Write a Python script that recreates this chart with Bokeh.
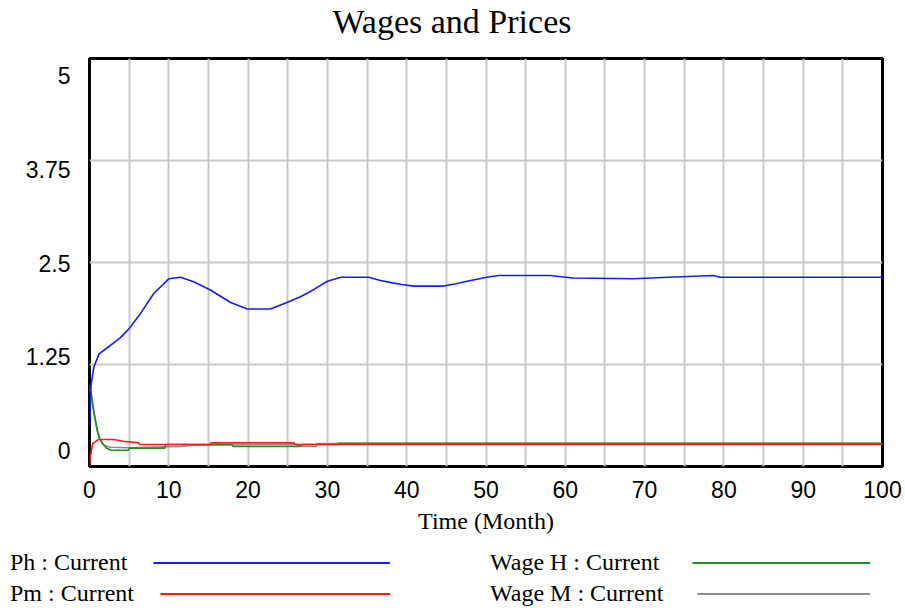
from bokeh.plotting import figure
from bokeh.layouts import column
from bokeh.models import Range1d, LinearAxis, FixedTicker, Legend, LegendItem, ColumnDataSource
from bokeh.embed import file_html
from bokeh.resources import INLINE

# ---- data ----
ph_t = [0, 0.2, 0.55, 1.2, 2.6, 3.9, 5.0, 6.4, 8.1, 10.0, 11.5, 13.2, 15.3, 17.8, 19.9,
        22.8, 24.9, 26.6, 28.3, 30.0, 31.7, 35.2, 36.7, 38.2, 39.4, 40.9, 44.5, 46.2,
        47.6, 50.1, 51.6, 58.1, 61.0, 68.6, 73.0, 78.7, 79.5, 100]
ph = [0.50, 1.00, 1.22, 1.38, 1.48, 1.58, 1.69, 1.87, 2.12, 2.30, 2.32, 2.26, 2.16, 2.01, 1.93,
      1.93, 2.01, 2.08, 2.17, 2.27, 2.32, 2.32, 2.28, 2.25, 2.23, 2.21, 2.21, 2.24,
      2.27, 2.32, 2.34, 2.34, 2.31, 2.30, 2.32, 2.34, 2.32, 2.32]

pm_t = [0, 0.1, 0.4, 1.1, 3.0, 4.3, 6.2, 6.3, 15.2, 15.3, 25.8, 25.9, 100]
pm = [0.0, 0.12, 0.28, 0.33, 0.33, 0.31, 0.29, 0.27, 0.27, 0.29, 0.29, 0.27, 0.27]

wh_t = [0, 0.3, 0.6, 1.0, 1.3, 1.7, 2.1, 2.7, 4.9, 5.0, 9.5, 9.6, 15.3, 18.0, 18.1,
        26.2, 27.0, 31.3, 31.4, 100]
wh = [1.00, 0.85, 0.65, 0.44, 0.34, 0.28, 0.23, 0.20, 0.20, 0.225, 0.225, 0.27, 0.27, 0.27, 0.245,
      0.245, 0.27, 0.27, 0.285, 0.285]

wm_t = [0, 0.3, 0.6, 1.0, 1.3, 1.7, 2.1, 2.7, 5.0, 7.0, 11.5, 13.0, 26.1, 26.2, 28.6, 28.7, 100]
wm = [0.95, 0.80, 0.62, 0.42, 0.33, 0.27, 0.25, 0.235, 0.23, 0.235, 0.245, 0.26, 0.27, 0.245,
      0.245, 0.28, 0.28]

x_ticks = [0, 10, 20, 30, 40, 50, 60, 70, 80, 90, 100]
x_grid = list(range(0, 101, 5))
y_ticks = [0, 1.25, 2.5, 3.75, 5]
y_tick_labels = ["0", "1.25", "2.5", "3.75", "5"]
y_grid = [1.25, 2.5, 3.75]

title_text = "Wages and Prices"
labels = ["Ph : Current", "Pm : Current", "Wage H : Current", "Wage M : Current"]
colors = ["#1a1aff", "#ff1a1a", "#1f901f", "#8c8c8c"]

srcs = [ColumnDataSource(dict(t=ph_t, v=ph)), ColumnDataSource(dict(t=pm_t, v=pm)),
        ColumnDataSource(dict(t=wh_t, v=wh)), ColumnDataSource(dict(t=wm_t, v=wm))]


def bare(width, height, title=None):
    f = figure(width=width, height=height, min_border=0, title=title,
               x_range=Range1d(-2, -1), y_range=Range1d(-2, -1),
               x_axis_location=None, y_axis_location=None,
               output_backend="svg", toolbar_location=None)
    f.outline_line_color = None
    f.grid.visible = False
    f.background_fill_color = "white"
    f.border_fill_color = "white"
    return f


# ---- title strip ----
tf = bare(905, 56, title=title_text)
tf.title.text_font = "Liberation Serif"
tf.title.text_font_size = "34px"
tf.title.text_font_style = "normal"
tf.title.text_color = "black"
tf.title.align = "left"
tf.title.offset = 243
tf.title.vertical_align = "top"
tf.title.standoff = 4

# ---- main chart ----
p = figure(frame_width=793, frame_height=408, title=None,
           min_border_left=89, min_border_right=23, min_border_top=2, min_border_bottom=82,
           x_range=Range1d(0, 100), y_range=Range1d(0, 5),
           y_axis_location=None,
           output_backend="svg", toolbar_location=None)

p.background_fill_color = "white"
p.border_fill_color = "white"
p.outline_line_color = "black"
p.outline_line_width = 3

xa = p.below[0]
xa.ticker = FixedTicker(ticks=x_ticks)
xa.axis_line_color = None
xa.major_tick_line_color = None
xa.minor_tick_line_color = None
xa.major_tick_out = 0
xa.major_tick_in = 0
xa.major_label_standoff = 14
xa.major_label_text_font = "Liberation Sans"
xa.major_label_text_font_size = "23px"
xa.major_label_text_color = "black"
xa.axis_label = "Time (Month)"
xa.axis_label_text_font = "Liberation Serif"
xa.axis_label_text_font_size = "24px"
xa.axis_label_text_font_style = "normal"
xa.axis_label_text_color = "black"
xa.axis_label_standoff = 7

p.xgrid.ticker = FixedTicker(ticks=x_grid)
p.ygrid.ticker = FixedTicker(ticks=y_grid)
for g in (p.xgrid, p.ygrid):
    g.grid_line_color = "#c8c8c8"
    g.grid_line_width = 2

# y axis labels (spread inside the axis span, as in the reference)
p.extra_y_ranges = {"lab": Range1d(-0.2133, 5.2267)}
ya = LinearAxis(y_range_name="lab", ticker=FixedTicker(ticks=y_ticks),
                major_label_overrides=dict(zip(y_ticks, y_tick_labels)))
ya.axis_line_color = None
ya.major_tick_line_color = None
ya.minor_tick_line_color = None
ya.major_tick_out = 0
ya.major_tick_in = 0
ya.major_label_standoff = 19
ya.major_label_text_font = "Liberation Sans"
ya.major_label_text_font_size = "23px"
ya.major_label_text_color = "black"
p.add_layout(ya, "left")

for i in (3, 2, 1, 0):
    p.line("t", "v", source=srcs[i], line_color=colors[i], line_width=1.6)

# ---- legend strip below the chart: "label  ——" for each series ----
lg = bare(905, 60)
rs = [lg.line("t", "v", source=srcs[i], line_color=colors[i], line_width=2) for i in range(4)]


def text_legend(idx, loc):
    return Legend(items=[LegendItem(label=labels[i], renderers=[rs[i]]) for i in idx],
                  location=loc, glyph_width=0, glyph_height=29, label_height=29,
                  label_standoff=0, spacing=2, padding=0, margin=0,
                  background_fill_alpha=0, border_line_alpha=0,
                  label_text_font="Liberation Serif", label_text_font_size="24px",
                  label_text_color="black")


def line_sample(i, loc, gw):
    return Legend(items=[LegendItem(label=" ", renderers=[rs[i]])], location=loc,
                  glyph_width=gw, glyph_height=29, label_height=29, label_standoff=0,
                  spacing=0, padding=0, margin=0, label_text_font_size="1px",
                  background_fill_alpha=0, border_line_alpha=0)


lg.add_layout(text_legend([0, 1], (10, 0)), "center")
lg.add_layout(text_legend([2, 3], (490, 0)), "center")
lg.add_layout(line_sample(0, (153, 31), 237), "center")
lg.add_layout(line_sample(1, (160, 0), 230), "center")
lg.add_layout(line_sample(2, (692, 31), 178), "center")
lg.add_layout(line_sample(3, (697, 0), 173), "center")

chart = column(tf, p, spacing=0)
open("out.html", "w").write(file_html([chart, lg], INLINE))
